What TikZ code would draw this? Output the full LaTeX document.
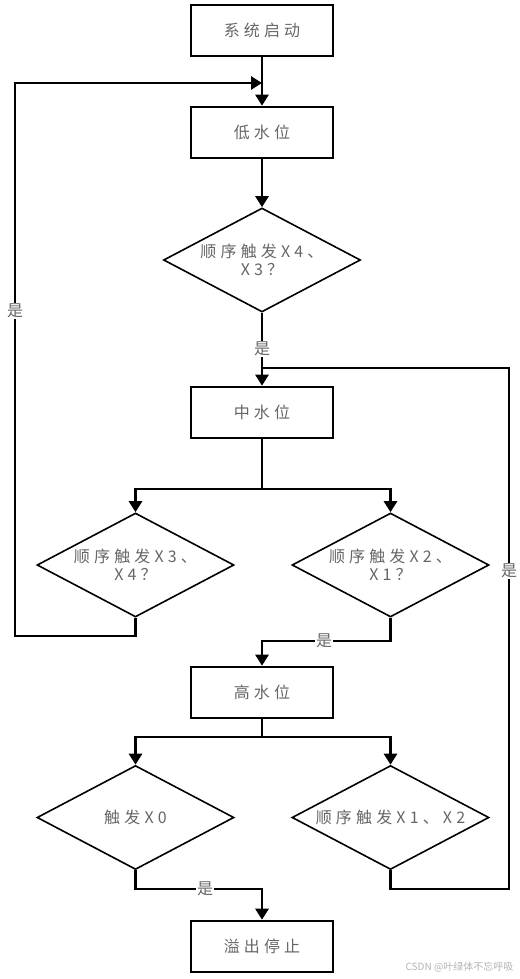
\documentclass[tikz,border=0pt]{standalone}
\usepackage{fontspec}
\usetikzlibrary{arrows.meta,shapes.geometric}
\newfontfamily\cjk[LetterSpace=26]{Noto Sans CJK SC}
\newfontfamily\cjkw{Noto Sans CJK SC}
\definecolor{txt}{HTML}{666666}
\definecolor{wm}{HTML}{B4B4B4}
\begin{document}
\begin{tikzpicture}[x=1pt,y=-1pt,
  font=\cjk\fontsize{16}{18}\selectfont,
  procbox/.style={draw=black,line width=2.6pt,minimum width=142pt,minimum height=51pt,inner sep=0pt,text=txt},
  decide/.style={draw=black,line width=1.6pt,diamond,aspect=1.875,minimum width=197pt,minimum height=104pt,inner sep=0pt,align=center,text=txt},
  conn/.style={line width=2.8pt},
  arr/.style={conn,-{Triangle[length=11pt,width=13pt]}},
  yes/.style={fill=white,inner sep=1pt,text=txt}]
\useasboundingbox (0,0) rectangle (519,979);
\fill[white] (0,0) rectangle (519,979);

\node[procbox] (s0) at (262,30.5) {系统启动};
\node[procbox] (n1) at (262,132.5) {低水位};
\node[decide] (d1) at (262,260) {顺序触发X4、\\X3？};
\node[procbox] (n2) at (262,412.5) {中水位};
\node[decide] (d2L) at (135.5,565) {顺序触发X3、\\X4？};
\node[decide] (d2R) at (390.5,565) {顺序触发X2、\\X1？};
\node[procbox] (n3) at (262,692.5) {高水位};
\node[decide] (d3L) at (135.5,817.5) {触发X0};
\node[decide] (d3R) at (390.5,817.5) {顺序触发X1、X2};
\node[procbox] (n4) at (262,946.5) {溢出停止};

\coordinate (m1) at (262,83);
\coordinate (lb) at (15,636);
\coordinate (m2) at (262,368);
\coordinate (rb) at (509,889);
\coordinate (b1) at (262,489);
\coordinate (c1) at (262,641);
\coordinate (b2) at (262,737);
\coordinate (c2) at (262,889);

\draw[arr] (s0.south) -- (n1.north);
\draw[arr] (d2L.south) |- (lb) |- (m1);
\draw[arr] (n1.south) -- (d1.north);
\draw[arr] (d1.south) -- (n2.north);
\draw[conn] (d3R.south) |- (rb) |- (m2);
\draw[conn] (n2.south) -- (b1);
\draw[arr] (b1) -| (d2L.north);
\draw[arr] (b1) -| (d2R.north);
\draw[arr] (d2R.south) |- (c1) -- (n3.north);
\draw[conn] (n3.south) -- (b2);
\draw[arr] (b2) -| (d3L.north);
\draw[arr] (b2) -| (d3R.north);
\draw[arr] (d3L.south) |- (c2) -- (n4.north);

\node[yes] (y1) at (15,311) {是};
\node[yes] (y2) at (262,349) {是};
\node[yes] (y3) at (509,571) {是};
\node[yes] (y4) at (324,641) {是};
\node[yes] (y5) at (205,889) {是};

\node[anchor=east,text=wm,font=\cjkw\fontsize{10}{12}\selectfont] (wmk) at (517,967) {CSDN @叶绿体不忘呼吸};
\end{tikzpicture}
\end{document}
